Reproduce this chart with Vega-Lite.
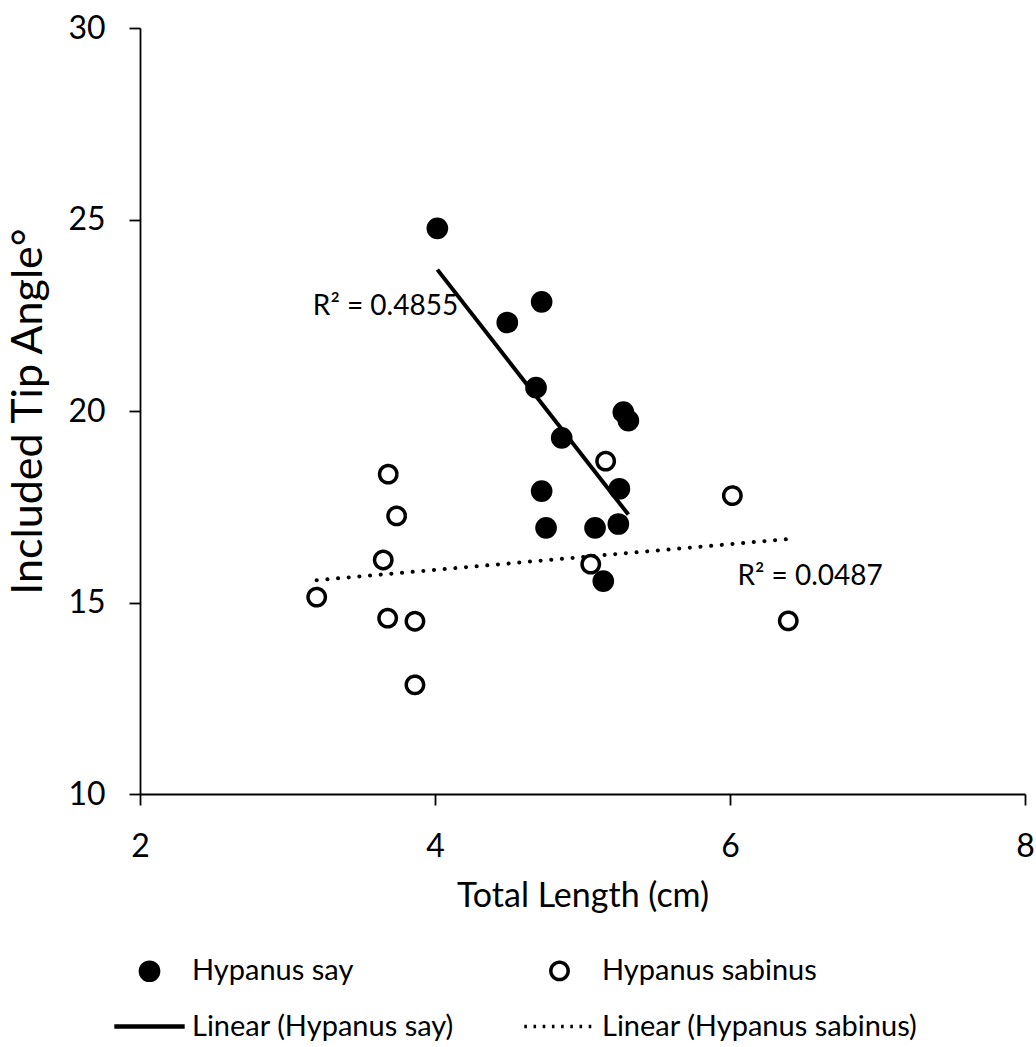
{
  "$schema": "https://vega.github.io/schema/vega-lite/v6.json",
  "width": 885,
  "height": 766,
  "autosize": {"type": "none"},
  "padding": {"left": 140, "top": 28, "right": 11, "bottom": 253},
  "background": "white",
  "config": {
    "font": "Lato",
    "view": {"stroke": null},
    "axis": {
      "domainColor": "black",
      "domainWidth": 1.8,
      "tickColor": "black",
      "tickWidth": 1.8,
      "tickSize": 11,
      "grid": false,
      "labelColor": "black",
      "titleColor": "black",
      "labelFont": "Lato",
      "titleFont": "Lato",
      "titleFontWeight": "normal"
    },
    "legend": {
      "labelFont": "Lato",
      "orient": "none",
      "legendX": -5,
      "legendY": 928,
      "direction": "horizontal",
      "columns": 2,
      "columnPadding": 63,
      "rowPadding": 25,
      "padding": 0,
      "labelFontSize": 29,
      "labelColor": "black",
      "labelOffset": 28,
      "labelLimit": 600,
      "symbolOpacity": 1
    }
  },
  "datasets": {
    "points": [
      {"series": "Hypanus say", "length": 4.016, "angle": 24.77},
      {"series": "Hypanus say", "length": 4.723, "angle": 22.85},
      {"series": "Hypanus say", "length": 4.490, "angle": 22.31},
      {"series": "Hypanus say", "length": 4.685, "angle": 20.61},
      {"series": "Hypanus say", "length": 4.859, "angle": 19.30},
      {"series": "Hypanus say", "length": 5.277, "angle": 19.97},
      {"series": "Hypanus say", "length": 5.311, "angle": 19.75},
      {"series": "Hypanus say", "length": 4.723, "angle": 17.91},
      {"series": "Hypanus say", "length": 5.250, "angle": 17.97},
      {"series": "Hypanus say", "length": 4.753, "angle": 16.95},
      {"series": "Hypanus say", "length": 5.085, "angle": 16.95},
      {"series": "Hypanus say", "length": 5.243, "angle": 17.05},
      {"series": "Hypanus say", "length": 5.141, "angle": 15.56},
      {"series": "Hypanus sabinus", "length": 3.683, "angle": 18.35},
      {"series": "Hypanus sabinus", "length": 3.740, "angle": 17.26},
      {"series": "Hypanus sabinus", "length": 3.649, "angle": 16.11},
      {"series": "Hypanus sabinus", "length": 3.198, "angle": 15.14},
      {"series": "Hypanus sabinus", "length": 3.679, "angle": 14.59},
      {"series": "Hypanus sabinus", "length": 3.864, "angle": 14.51},
      {"series": "Hypanus sabinus", "length": 3.864, "angle": 12.85},
      {"series": "Hypanus sabinus", "length": 5.056, "angle": 16.00},
      {"series": "Hypanus sabinus", "length": 5.157, "angle": 18.69},
      {"series": "Hypanus sabinus", "length": 6.016, "angle": 17.79},
      {"series": "Hypanus sabinus", "length": 6.395, "angle": 14.52}
    ],
    "labels": [
      {"lx": 3.172, "ly": 22.72, "text": "R² = 0.4855"},
      {"lx": 6.051, "ly": 15.67, "text": "R² = 0.0487"}
    ]
  },
  "layer": [
    {
      "data": {"name": "points"},
      "mark": {"type": "point", "opacity": 1, "stroke": "black", "filled": false},
      "encoding": {
        "x": {
          "field": "length", "type": "quantitative",
          "scale": {"domain": [2, 8], "nice": false, "zero": false},
          "axis": {
            "title": "Total Length (cm)",
            "values": [2, 4, 6, 8],
            "format": "d",
            "labelFontSize": 32,
            "labelPadding": 26,
            "titleFontSize": 34,
            "titlePadding": 17,
            "labelFlush": false
          }
        },
        "y": {
          "field": "angle", "type": "quantitative",
          "scale": {"domain": [10, 30], "nice": false, "zero": false},
          "axis": {
            "title": "Included Tip Angle°",
            "values": [10, 15, 20, 25, 30],
            "format": "d",
            "labelFontSize": 32,
            "labelPadding": 24,
            "titleFontSize": 43,
            "titlePadding": 17,
            "labelFlush": false
          }
        },
        "shape": {
          "field": "series", "type": "nominal",
          "scale": {
            "domain": ["Hypanus say", "Hypanus sabinus", "Linear (Hypanus say)", "Linear (Hypanus sabinus)"],
            "range": ["circle", "circle", "M-3.2,0H3.2", "M-3.2,0H3.2"]
          },
          "legend": {"title": null}
        },
        "fill": {
          "field": "series", "type": "nominal",
          "scale": {
            "domain": ["Hypanus say", "Hypanus sabinus", "Linear (Hypanus say)", "Linear (Hypanus sabinus)"],
            "range": ["black", "white", "transparent", "transparent"]
          },
          "legend": {"title": null}
        },
        "strokeWidth": {
          "field": "series", "type": "nominal",
          "scale": {
            "type": "ordinal",
            "domain": ["Hypanus say", "Hypanus sabinus", "Linear (Hypanus say)", "Linear (Hypanus sabinus)"],
            "range": [0, 3.5, 4.5, 3.5]
          },
          "legend": {"title": null}
        },
        "size": {
          "field": "series", "type": "nominal",
          "scale": {
            "type": "ordinal",
            "domain": ["Hypanus say", "Hypanus sabinus", "Linear (Hypanus say)", "Linear (Hypanus sabinus)"],
            "range": [470, 300, 484, 484]
          },
          "legend": {"title": null}
        },
        "strokeDash": {
          "field": "series", "type": "nominal",
          "scale": {
            "domain": ["Hypanus say", "Hypanus sabinus", "Linear (Hypanus say)", "Linear (Hypanus sabinus)"],
            "range": [[1, 0], [1, 0], [1, 0], [2.6, 6.6]]
          },
          "legend": {"title": null}
        }
      }
    },
    {
      "data": {"name": "points"},
      "transform": [
        {"filter": "datum.series === 'Hypanus say'"},
        {"regression": "angle", "on": "length"}
      ],
      "mark": {"type": "line", "color": "black", "strokeWidth": 4, "strokeCap": "butt"},
      "encoding": {
        "x": {"field": "length", "type": "quantitative"},
        "y": {"field": "angle", "type": "quantitative"}
      }
    },
    {
      "data": {"name": "points"},
      "transform": [
        {"filter": "datum.series === 'Hypanus sabinus'"},
        {"regression": "angle", "on": "length"}
      ],
      "mark": {"type": "line", "color": "black", "strokeWidth": 4, "strokeCap": "round", "strokeDash": [0.1, 10.6]},
      "encoding": {
        "x": {"field": "length", "type": "quantitative"},
        "y": {"field": "angle", "type": "quantitative"}
      }
    },
    {
      "data": {"name": "labels"},
      "mark": {"type": "text", "align": "left", "baseline": "middle", "fontSize": 28, "font": "Lato", "color": "black"},
      "encoding": {
        "x": {"field": "lx", "type": "quantitative"},
        "y": {"field": "ly", "type": "quantitative"},
        "text": {"field": "text"}
      }
    }
  ]
}
